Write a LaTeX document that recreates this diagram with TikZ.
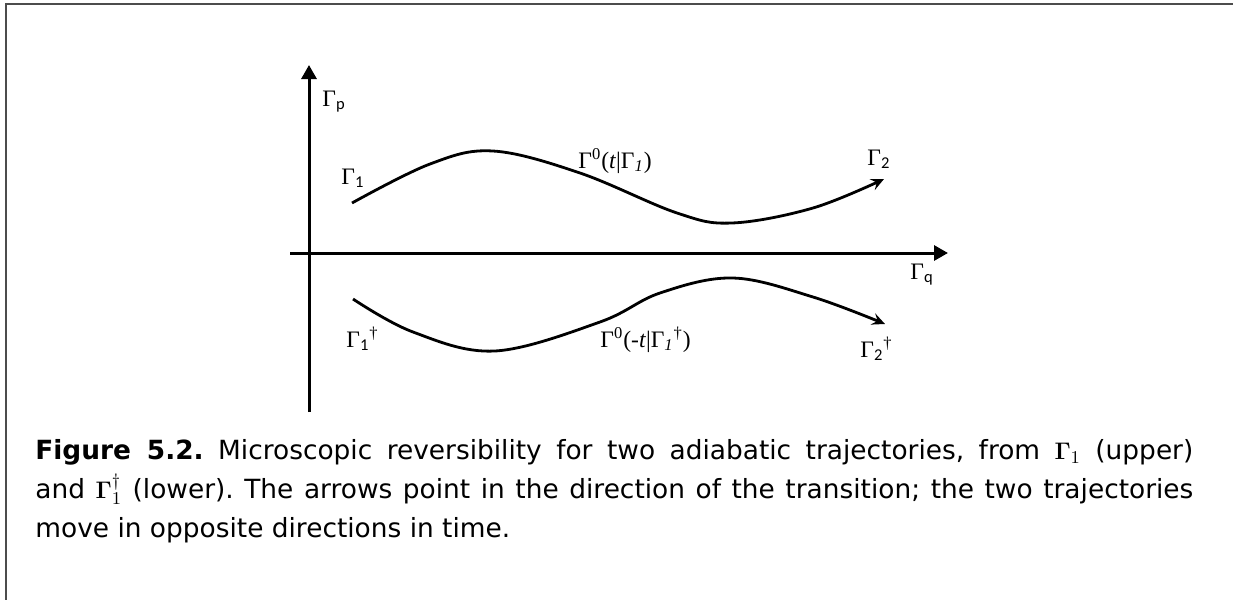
\documentclass[tikz,border=0pt]{standalone}
\usepackage[no-math]{fontspec}
\setmainfont{DejaVu Sans}
\newfontfamily\lblfont{Liberation Serif}
\newfontfamily\subfont{Carlito}
\usetikzlibrary{arrows.meta}

\begin{document}
\begin{tikzpicture}[
        x=0.5pt, y=-0.5pt,
        axis/.style={line width=1.5pt, -{Triangle[length=7pt, width=7.5pt]}},
        traj/.style={line width=1.4pt, -{Stealth[length=6.5pt, width=6pt, inset=2.5pt]}},
        lbl/.style={anchor=base west, inner sep=0pt, font=\lblfont\fontsize{11.8}{13}\selectfont}
    ]
        \useasboundingbox (0,0) rectangle (1233,600);

        % Frame
        \draw[line width=1pt, black!70] (5.8,600) -- (5.8,4.2) -- (1233,4.2);

        % Axes
        \coordinate (pbot) at (309,412);
        \coordinate (ptop) at (309,65);
        \coordinate (qleft) at (290,253);
        \coordinate (qright) at (948,253);
        \draw[axis] (pbot) -- (ptop);
        \draw[axis] (qleft) -- (qright);

        \node[lbl] (gp) at (322,106) {Γ\textsubscript{\subfont p}};
        \node[lbl] (gq) at (910,279) {Γ\textsubscript{\subfont q}};

        % Forward trajectory
        \coordinate (fwdstart) at (352,203);
        \coordinate (fwdend) at (884,179);
        \draw[traj] plot[smooth, tension=0.6] coordinates {(fwdstart) (430,164) (493,151) (580,173) (677,213) (732,223) (813,208) (fwdend)};

        \node[lbl] (gone) at (341,184) {Γ\textsubscript{\subfont 1}};
        \node[lbl] (gfwd) at (578,168) {Γ\textsuperscript{0}(\textit{t}|Γ\textsubscript{\textit{1}})};
        \node[lbl] (gtwo) at (867,165) {Γ\textsubscript{\subfont 2}};

        % Reversed trajectory
        \coordinate (revstart) at (353,299);
        \coordinate (revend) at (885,324);
        \draw[traj] plot[smooth, tension=0.6] coordinates {(revstart) (413,332) (495,351) (600,322) (660,293) (733,278) (813,297) (revend)};

        \node[lbl] (gonedag) at (346,347) {Γ\textsubscript{\subfont 1}\textsuperscript{\textdagger}};
        \node[lbl] (grev) at (600,347) {Γ\textsuperscript{0}(-\textit{t}|Γ\textsubscript{\textit{1}}\textsuperscript{\textdagger})};
        \node[lbl] (gtwodag) at (860,357) {Γ\textsubscript{\subfont 2}\textsuperscript{\textdagger}};

        % Caption
        \node[anchor=north west, inner sep=0pt, text width=579pt, align=justify,
              font=\fontsize{13.2}{19.5}\selectfont\frenchspacing] (caption) at (35,439)
            {\textbf{Figure 5.2.} Microscopic reversibility for two adiabatic trajectories, from $\mathbf{\Gamma}_1$ (upper)\linebreak and $\mathbf{\Gamma}_1^\dagger$ (lower). The arrows point in the direction of the transition; the two trajectories\linebreak move in opposite directions in time.};
    \end{tikzpicture}
\end{document}
